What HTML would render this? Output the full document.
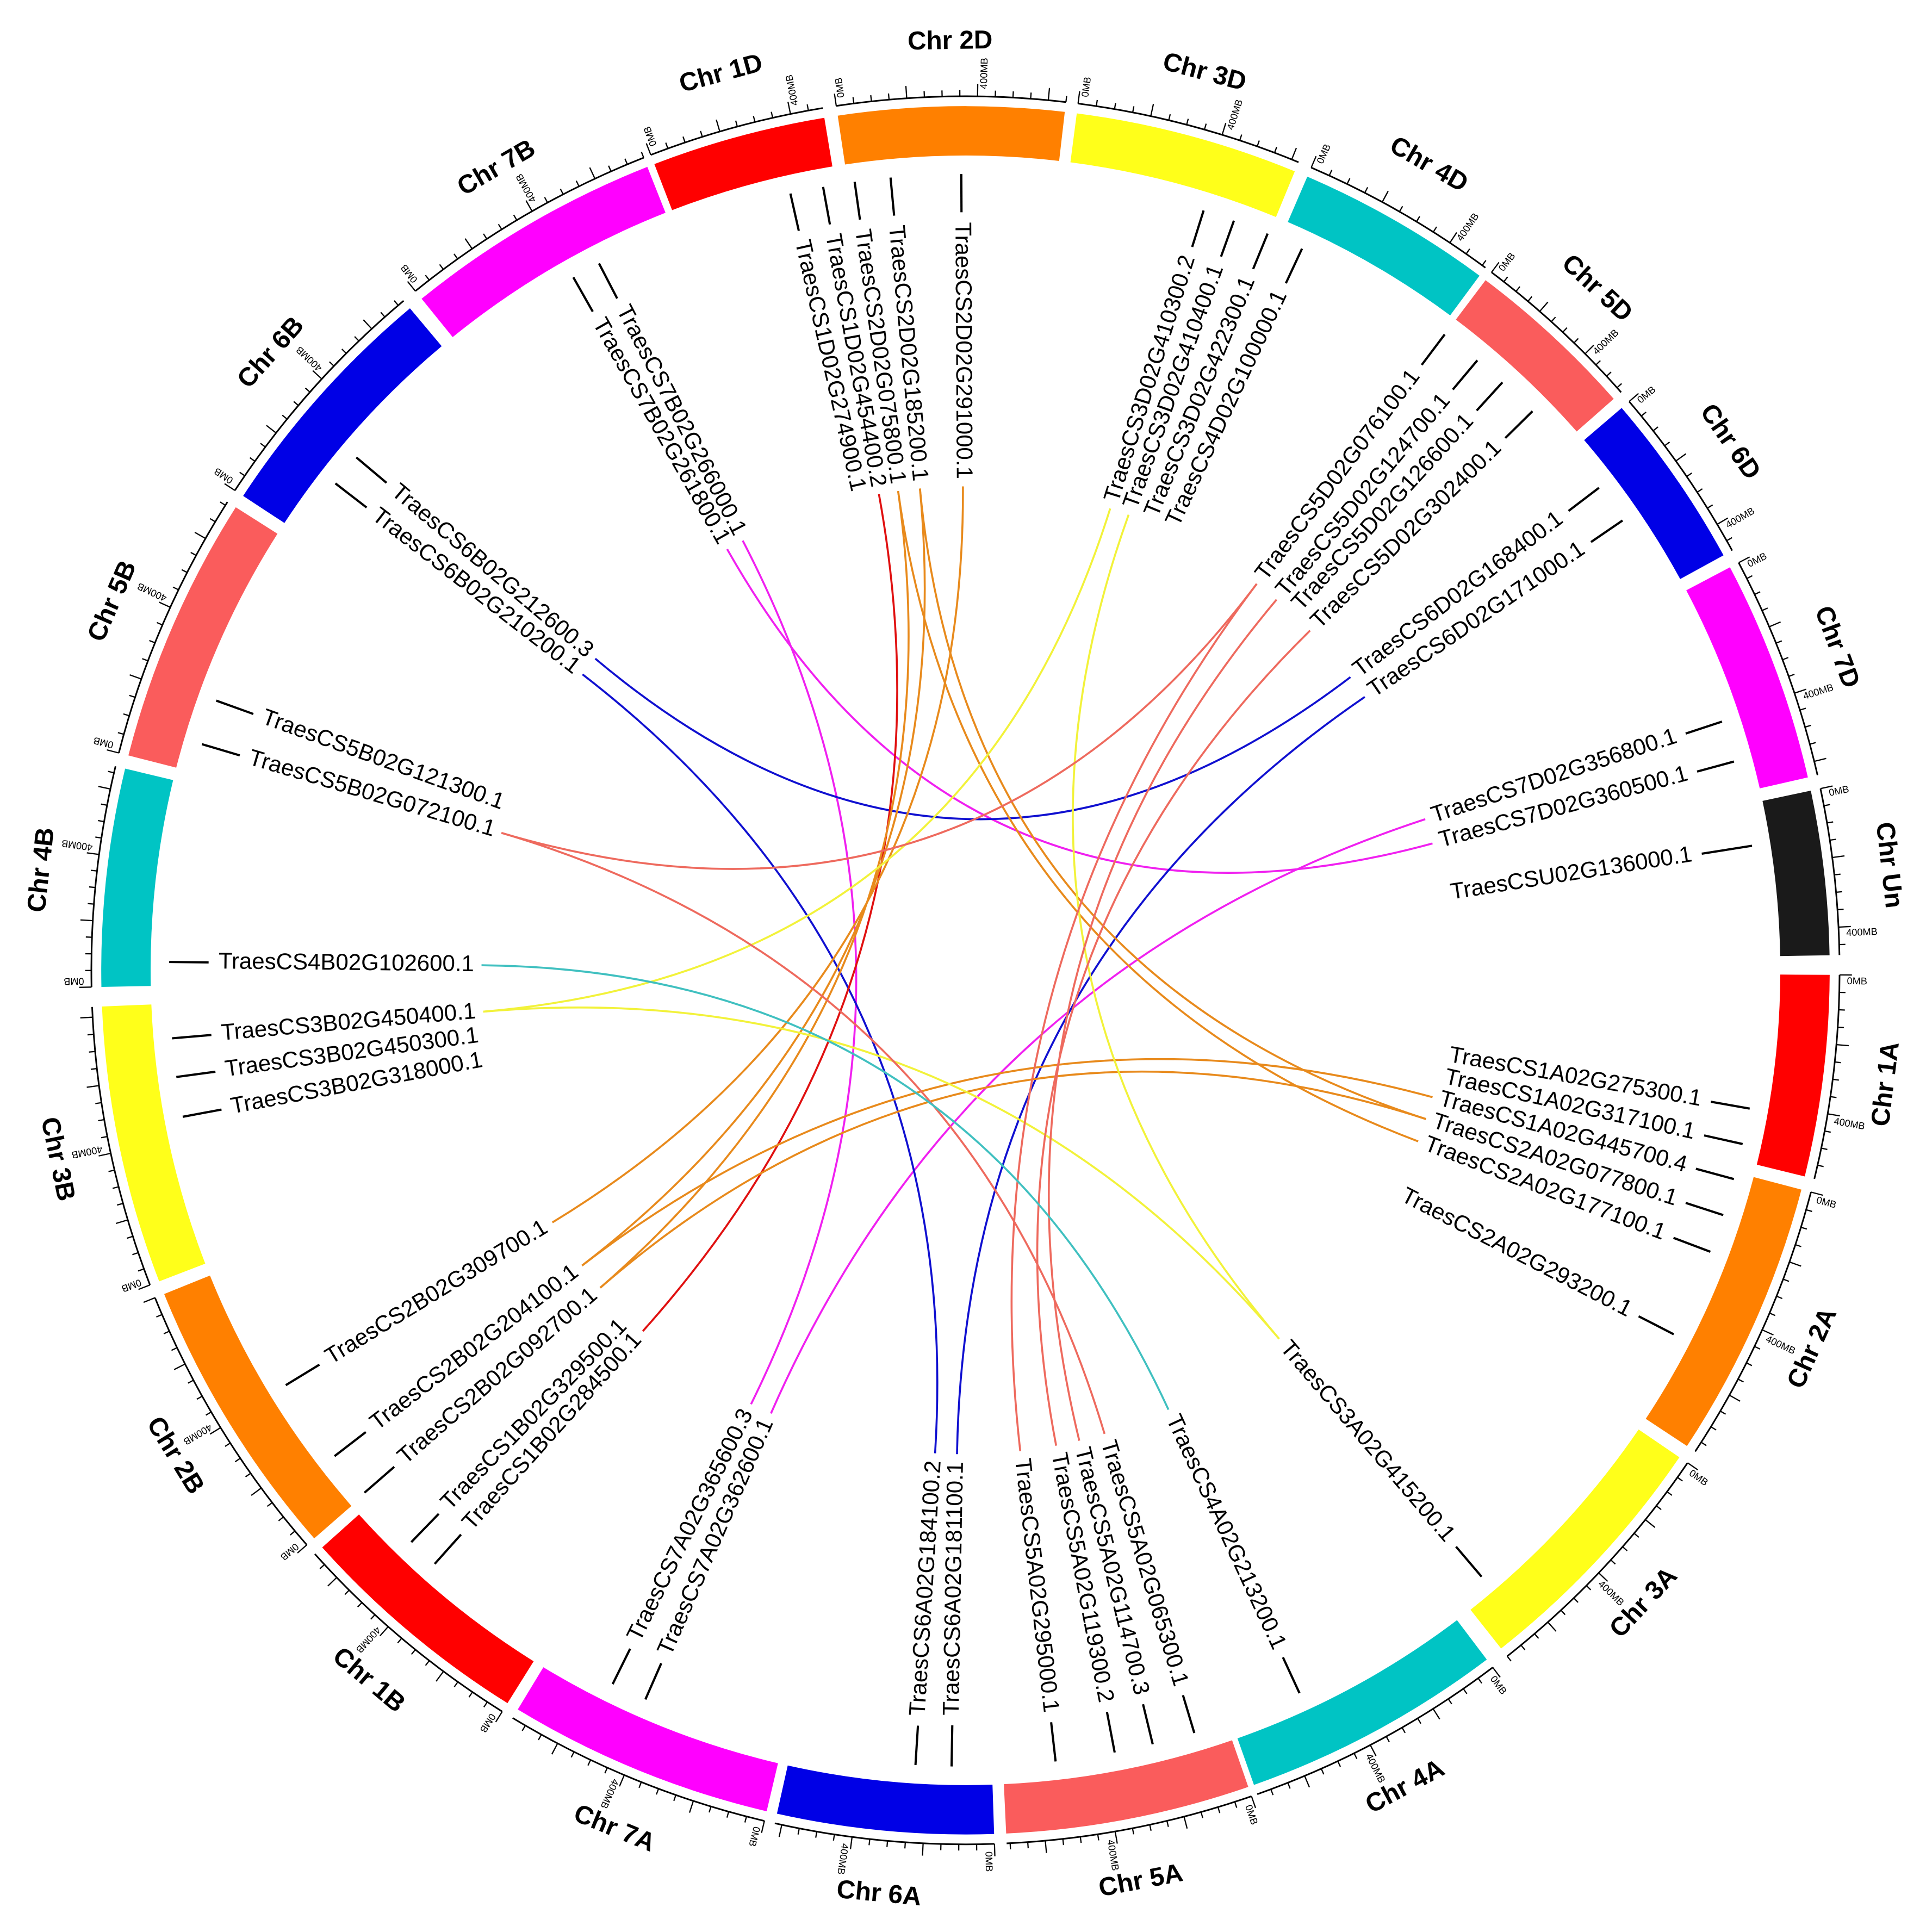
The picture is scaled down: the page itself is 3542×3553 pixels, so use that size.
<!DOCTYPE html>
<html><head><meta charset="utf-8"><style>
html,body{margin:0;padding:0;background:#fff;}
svg{display:block;}
text{font-family:"Liberation Sans",sans-serif;}
</style></head><body>
<svg id="s" xmlns="http://www.w3.org/2000/svg" width="3542" height="3553" viewBox="0 0 1560 1565" preserveAspectRatio="none">
<rect width="1560" height="1565" fill="#fff"/>
<g id="bands"></g><g id="ticks"></g><g id="links" fill="none" stroke-width="1.6"></g><g id="labels"></g>
</svg>
<script>
var CX=782,CY=786,NS="http://www.w3.org/2000/svg";
function P(r,a){var t=a*Math.PI/180;return [CX+r*Math.sin(t),CY-r*Math.cos(t)];}
function el(p,tag,at,txt){var e=document.createElementNS(NS,tag);for(var k in at)e.setAttribute(k,at[k]);if(txt!==undefined)e.textContent=txt;p.appendChild(e);return e;}
var C={1:"#ff0000",2:"#ff8000",3:"#ffff1a",4:"#00c4c4",5:"#fa5c5c",6:"#0000e6",7:"#ff00ff",U:"#1a1a1a"};
var chr=[["2D",-8.5,6.6,2,650],["3D",7.4,22.4,3,620],["4D",23.3,36.5,4,510],["5D",37,48.6,5,570],["6D",49.4,61.3,6,480],["7D",62.2,77.1,7,640],["Un",78,89,"U",480],
["1A",90.3,103.8,1,590],["2A",104.7,123.4,2,780],["3A",124.3,141.7,3,750],["4A",142.9,160.5,4,740],["5A",160.9,177.3,5,710],["6A",178.1,192.6,6,620],["7A",193.3,211.2,7,740],
["1B",212,228.1,1,690],["2B",228.9,248,2,800],["3B",248.9,267.6,3,830],["4B",268.9,283.5,4,670],["5B",284.4,302.4,5,710],["6B",303.3,320,6,720],["7B",321,338.4,7,750],["1D",338.9,350.6,1,490]];
var B=document.getElementById("bands"),T=document.getElementById("ticks");
chr.forEach(function(c){
 var a0=c[1],a1=c[2],r0=660,r1=700,p1=P(r1,a0),p2=P(r1,a1),p3=P(r0,a1),p4=P(r0,a0);
 el(B,"path",{d:"M"+p1+"A"+r1+","+r1+" 0 0 1 "+p2+"L"+p3+"A"+r0+","+r0+" 0 0 0 "+p4+"Z",fill:C[c[3]]});
 var rt=708,q1=P(rt,a0),q2=P(rt,a1);
 el(T,"path",{d:"M"+q1+"A"+rt+","+rt+" 0 0 1 "+q2,fill:"none",stroke:"#000","stroke-width":1.3});
 var deg=(a1-a0)/c[4];var i=0;
 for(var mb=0;mb*deg<=a1-a0+0.01;mb+=50,i++){var a=a0+mb*deg,L=(mb%200==0)?10:5;var u=P(rt,a),v=P(rt+L,a);
  el(T,"line",{x1:u[0],y1:u[1],x2:v[0],y2:v[1],stroke:"#000","stroke-width":1});}
 [[0,"0MB"],[400,"400MB"]].forEach(function(m){var a=a0+m[0]*deg+0.6;if(a>a1)return;var q=P(714,a);
  el(T,"text",{x:q[0],y:q[1],"font-size":8,transform:"rotate("+(a-90)+" "+q[0]+" "+q[1]+")"},m[1]);});
 var am=(a0+a1)/2,q=P(752,am),rot=(am>90&&am<270)?am-180:am;
 el(T,"text",{x:q[0],y:q[1],"font-size":21,"font-weight":"bold","text-anchor":"middle","dominant-baseline":"middle",transform:"rotate("+rot+" "+q[0]+" "+q[1]+")"},"Chr "+c[0]);
});
var G=[["TraesCS1D02G274900.1",347.3],["TraesCS1D02G454400.2",349.7],["TraesCS2D02G075800.1",352],["TraesCS2D02G185200.1",354.6],["TraesCS2D02G291000.1",359.7],
["TraesCS7B02G266000.1",332.6],["TraesCS7B02G261800.1",330.5],["TraesCS6B02G212600.3",310.1],["TraesCS6B02G210200.1",307.7],
["TraesCS5B02G121300.1",289.8],["TraesCS5B02G072100.1",286.5],["TraesCS4B02G102600.1",270.6],["TraesCS3B02G450400.1",265.1],["TraesCS3B02G450300.1",262.3],["TraesCS3B02G318000.1",259.4],
["TraesCS2B02G309700.1",238.6],["TraesCS2B02G204100.1",232.4],["TraesCS2B02G092700.1",229],["TraesCS1B02G329500.1",224.1],["TraesCS1B02G284500.1",221.8],
["TraesCS7A02G365600.3",206.3],["TraesCS7A02G362600.1",203.7],["TraesCS6A02G184100.2",183.6],["TraesCS6A02G181100.1",181],
["TraesCS5A02G295000.1",173.5],["TraesCS5A02G119300.2",169.2],["TraesCS5A02G114700.3",166.4],["TraesCS5A02G065300.1",163.3],["TraesCS4A02G213200.1",155.2],["TraesCS3A02G415200.1",139.6],
["TraesCS2A02G293200.1",117.2],["TraesCS2A02G177100.1",110.7],["TraesCS2A02G077800.1",107.9],["TraesCS1A02G445700.4",105.2],["TraesCS1A02G317100.1",102.6],["TraesCS1A02G275300.1",100],
["TraesCSU02G136000.1",81],["TraesCS7D02G360500.1",74.8],["TraesCS7D02G356800.1",71.8],["TraesCS6D02G171000.1",55.6],["TraesCS6D02G168400.1",52.7],
["TraesCS5D02G302400.1",45.4],["TraesCS5D02G126600.1",42.4],["TraesCS5D02G124700.1",40],["TraesCS5D02G076100.1",37],
["TraesCS4D02G100000.1",25],["TraesCS3D02G422300.1",22.3],["TraesCS3D02G410400.1",19.7],["TraesCS3D02G410300.2",17.4]];
var A={},Lb=document.getElementById("labels"),RIN=398;
G.forEach(function(g){
 var a=g[1];A[g[0]]=a;var q=P(RIN,a),right=(a>=0&&a<180);
 var t=el(Lb,"text",{x:q[0],y:q[1],"font-size":18.5,"dominant-baseline":"middle","text-anchor":right?"start":"end",transform:"rotate("+(right?a-90:a+90)+" "+q[0]+" "+q[1]+")"},g[0]);
 var len=t.getComputedTextLength?t.getComputedTextLength():205;
 var u=P(RIN+len+8,a),v=P(645,a);
 if(RIN+len+8<640)el(Lb,"line",{x1:u[0],y1:u[1],x2:v[0],y2:v[1],stroke:"#000","stroke-width":1.8});
});
var LK=[["7B02G261800.1","7D02G360500.1",7],["7B02G266000.1","7A02G365600.3",7],["7A02G362600.1","7D02G356800.1",7],
["6B02G212600.3","6D02G168400.1",6],["6B02G210200.1","6A02G184100.2",6],["6D02G171000.1","6A02G181100.1",6],
["1D02G454400.2","1B02G284500.1",1],
["2D02G075800.1","2A02G177100.1",2],["2D02G185200.1","2A02G077800.1",2],["2D02G291000.1","2B02G309700.1",2],["2B02G204100.1","1A02G445700.4",2],["2B02G092700.1","2A02G077800.1",2],["2D02G185200.1","2B02G204100.1",2],["2D02G075800.1","2B02G092700.1",2],
["3D02G410300.2","3B02G450400.1",3],["3D02G410400.1","3A02G415200.1",3],["3B02G450400.1","3A02G415200.1",3],
["5D02G076100.1","5B02G072100.1",5],["5B02G072100.1","5A02G065300.1",5],["5D02G076100.1","5A02G295000.1",5],["5D02G302400.1","5A02G119300.2",5],["5D02G124700.1","5A02G114700.3",5],
["4B02G102600.1","4A02G213200.1",4]];
var LC={1:"#e01010",2:"#e88a1c",3:"#f2f23a",4:"#40c0c0",5:"#ee6a5e",6:"#1010d0",7:"#f020f0"};
var Lk=document.getElementById("links");
LK.forEach(function(l){var a1=A["TraesCS"+l[0]],a2=A["TraesCS"+l[1]];if(a1===undefined||a2===undefined)return;
 var p=P(392,a1),q=P(392,a2);
 el(Lk,"path",{d:"M"+p+"Q"+CX+","+CY+" "+q,stroke:LC[l[2]]});});
</script>
</body></html>
